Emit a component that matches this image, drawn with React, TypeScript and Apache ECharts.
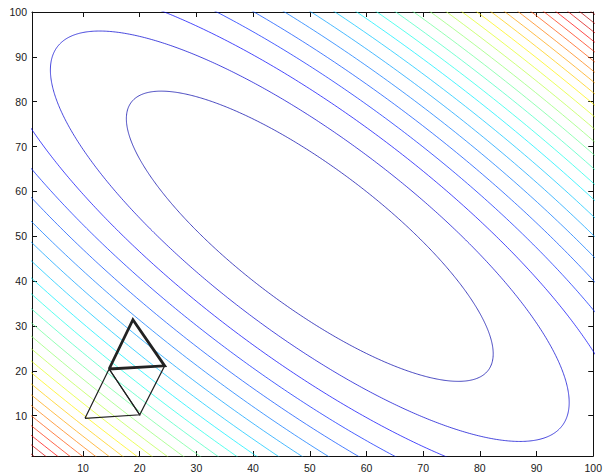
import React, { useEffect, useRef } from "react";
import * as echarts from "echarts";

// Quadratic objective f(x,y) = a(x-cx)^2 + b(y-cy)^2 + c(x-cx)(y-cy)
const fCenter = [50, 50];
const fCoeffs = [1, 1, 1.62]; // a, b, c
const contourLevels = [
  360, 720, 1080, 1440, 1800, 2160, 2520, 2880, 3240, 3600, 3960, 4320, 4680,
  5040, 5400, 5760, 6120, 6480, 6840, 7200, 7560, 7920, 8280, 8640, 9000,
];
const colorRange = [0, 9050];

const simplexThinA = [
  [10.35, 9.4],
  [20, 10.2],
  [14.6, 20.4],
];
const simplexThinB = [
  [14.6, 20.4],
  [20, 10.2],
  [24.4, 21.1],
];
const simplexThick = [
  [14.6, 20.4],
  [24.4, 21.1],
  [18.8, 31.4],
];

const xTicks = [10, 20, 30, 40, 50, 60, 70, 80, 90, 100];
const yTicks = [10, 20, 30, 40, 50, 60, 70, 80, 90, 100];
const axisRange = [1, 100];

function jet(t: number): string {
  const f = (x: number) => Math.max(0, Math.min(1, 1.5 - Math.abs(x)));
  const r = Math.round(f(4 * t - 3) * 255);
  const g = Math.round(f(4 * t - 2) * 255);
  const b = Math.round(f(4 * t - 1) * 255);
  return `rgb(${r},${g},${b})`;
}

function ellipse(level: number): number[][] {
  const [a, b, c] = fCoeffs;
  const h = c / 2;
  const mid = (a + b) / 2;
  const rad = Math.sqrt(((a - b) / 2) ** 2 + h * h);
  const l1 = mid + rad;
  const l2 = mid - rad;
  const th = 0.5 * Math.atan2(2 * h, a - b);
  const r1 = Math.sqrt(level / l1);
  const r2 = Math.sqrt(level / l2);
  const pts: number[][] = [];
  const N = 720;
  for (let i = 0; i <= N; i++) {
    const t = (2 * Math.PI * i) / N;
    const p = r1 * Math.cos(t);
    const q = r2 * Math.sin(t);
    const u = p * Math.cos(th) - q * Math.sin(th);
    const v = p * Math.sin(th) + q * Math.cos(th);
    pts.push([fCenter[0] + u, fCenter[1] + v]);
  }
  return pts;
}

const closed = (pts: number[][]) => [...pts, pts[0]];

export default function App() {
  const ref = useRef<HTMLDivElement>(null);
  useEffect(() => {
    if (!ref.current) return;
    const chart = echarts.init(ref.current, null, { renderer: "svg" });
    const font = "Liberation Sans, Arial, Helvetica, sans-serif";
    const axisLine = { show: true, lineStyle: { color: "#111", width: 1 } };
    const tickStyle = { color: "#111", width: 1 };

    const contourSeries = contourLevels.map((L) => ({
      type: "line",
      data: ellipse(L),
      showSymbol: false,
      symbol: "none",
      clip: true,
      silent: true,
      lineStyle: {
        color: jet((L - colorRange[0]) / (colorRange[1] - colorRange[0])),
        width: 0.9,
        opacity: 0.8,
      },
      z: 2,
    }));

    const triSeries = [
      { d: simplexThinA, w: 1.2 },
      { d: simplexThinB, w: 1.2 },
      { d: simplexThick, w: 2.8 },
    ].map((s) => ({
      type: "line",
      data: closed(s.d),
      showSymbol: false,
      symbol: "none",
      silent: true,
      lineStyle: { color: "#222", width: s.w, join: "miter" },
      z: 5,
    }));

    chart.setOption({
      animation: false,
      backgroundColor: "#fff",
      grid: { left: 32, right: 11, top: 12, bottom: 17, containLabel: false },
      xAxis: [
        {
          type: "value",
          position: "bottom",
          min: axisRange[0],
          max: axisRange[1],
          axisLine,
          axisTick: { show: true, inside: true, length: 5, customValues: xTicks, lineStyle: tickStyle },
          axisLabel: {
            show: true,
            customValues: xTicks,
            fontSize: 10.5,
            color: "#1a1a1a",
            fontFamily: font,
            margin: 6,
          },
          splitLine: { show: false },
        },
        {
          type: "value",
          position: "top",
          min: axisRange[0],
          max: axisRange[1],
          axisLine,
          axisTick: { show: true, inside: true, length: 5, customValues: xTicks, lineStyle: tickStyle },
          axisLabel: { show: false },
          splitLine: { show: false },
        },
      ],
      yAxis: [
        {
          type: "value",
          position: "left",
          min: axisRange[0],
          max: axisRange[1],
          axisLine,
          axisTick: { show: true, inside: true, length: 5, customValues: yTicks, lineStyle: tickStyle },
          axisLabel: {
            show: true,
            customValues: yTicks,
            fontSize: 10.5,
            color: "#1a1a1a",
            fontFamily: font,
            margin: 5,
          },
          splitLine: { show: false },
        },
        {
          type: "value",
          position: "right",
          min: axisRange[0],
          max: axisRange[1],
          axisLine,
          axisTick: { show: true, inside: true, length: 5, customValues: yTicks, lineStyle: tickStyle },
          axisLabel: { show: false },
          splitLine: { show: false },
        },
      ],
      series: [...contourSeries, ...triSeries],
    });
    return () => chart.dispose();
  }, []);
  return (
    <div
      ref={ref}
      style={{ position: "fixed", left: 0, top: 0, width: 605, height: 473 }}
    />
  );
}
